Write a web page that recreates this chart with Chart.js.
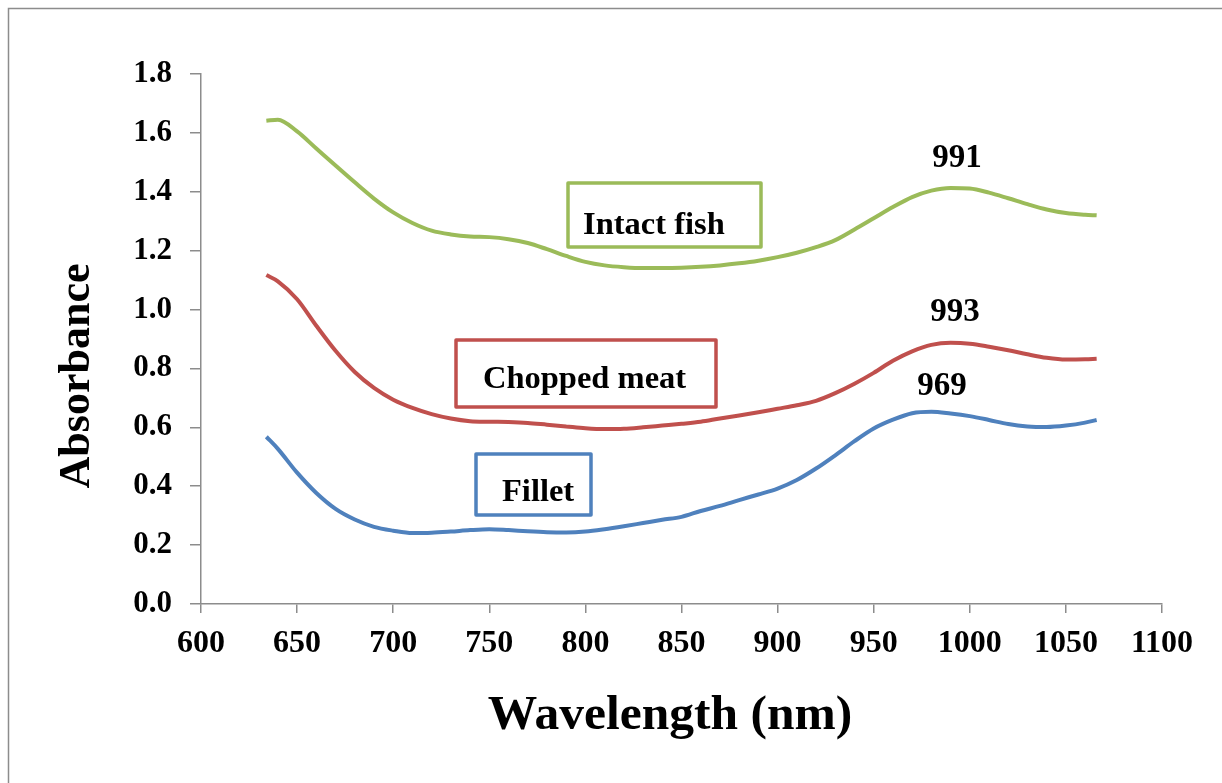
<!DOCTYPE html>
<html>
<head>
<meta charset="utf-8">
<script src="https://cdn.jsdelivr.net/npm/chart.js@4/dist/chart.umd.min.js"></script>
<style>
  html, body { margin: 0; padding: 0; background: #ffffff; }
  #wrap { width: 1222px; height: 783px; }
</style>
</head>
<body>
<div id="wrap"><canvas id="c" width="1222" height="783"></canvas></div>
<script>
// Wavelength grid (nm)
const wavelengths = [634, 640, 650, 660, 670, 680, 690, 700, 710, 720, 730, 740, 750, 760, 770, 780, 790, 800,
  810, 820, 830, 840, 850, 860, 870, 880, 890, 900, 910, 920, 930, 940, 950, 960, 970, 980, 990, 1000,
  1010, 1020, 1030, 1040, 1050, 1060, 1066];

// Absorbance spectra
const intactFish = [1.641, 1.645, 1.605, 1.547, 1.489, 1.432, 1.377, 1.330, 1.294, 1.268, 1.255, 1.248, 1.246,
  1.239, 1.226, 1.205, 1.182, 1.162, 1.150, 1.144, 1.141, 1.141, 1.142, 1.145, 1.150, 1.157, 1.166, 1.178,
  1.193, 1.212, 1.236, 1.272, 1.310, 1.348, 1.382, 1.404, 1.413, 1.411, 1.397, 1.378, 1.358, 1.340, 1.328,
  1.322, 1.320];
const choppedMeat = [1.117, 1.096, 1.035, 0.945, 0.860, 0.788, 0.734, 0.694, 0.666, 0.645, 0.630, 0.621, 0.619,
  0.618, 0.615, 0.609, 0.603, 0.597, 0.594, 0.595, 0.600, 0.606, 0.612, 0.619, 0.630, 0.640, 0.651, 0.663,
  0.675, 0.690, 0.716, 0.748, 0.785, 0.826, 0.858, 0.880, 0.887, 0.884, 0.874, 0.862, 0.848, 0.836, 0.830,
  0.831, 0.833];
const fillet = [0.568, 0.527, 0.446, 0.377, 0.323, 0.287, 0.262, 0.249, 0.241, 0.242, 0.246, 0.251, 0.254,
  0.251, 0.247, 0.244, 0.243, 0.246, 0.254, 0.264, 0.275, 0.286, 0.296, 0.316, 0.333, 0.353, 0.372, 0.392,
  0.421, 0.460, 0.505, 0.553, 0.596, 0.626, 0.648, 0.653, 0.647, 0.638, 0.625, 0.611, 0.603, 0.601, 0.606,
  0.616, 0.625];

// Sample names and peak wavelengths
const seriesNames = ['Intact fish', 'Chopped meat', 'Fillet'];
const peakLabels = ['991', '993', '969'];

// Axis ticks
const xTicks = { min: 600, max: 1100, step: 50 };
const yTicks = { min: 0, max: 1.8, step: 0.2 };

const colors = ['#9BBB59', '#C0504D', '#4F81BD'];
const serif = "'Liberation Serif', 'Times New Roman', serif";

function pts(values) {
  return wavelengths.map((w, i) => ({ x: w, y: values[i] }));
}

// Boxed sample names and peak numbers drawn over the plot
const boxes = [
  { rect: [568, 183, 193, 64], text: [583, 226] },
  { rect: [456, 340, 260, 67], text: [483, 380] },
  { rect: [476, 454, 115, 61], text: [502, 493] }
];
const peakPos = [[957, 158], [955, 312], [942, 386]];

const overlay = {
  id: 'overlay',
  beforeDraw(chart) {
    const ctx = chart.ctx;
    ctx.save();
    ctx.fillStyle = '#ffffff';
    ctx.fillRect(0, 0, chart.width, chart.height);
    ctx.strokeStyle = '#8c8c8c';
    ctx.lineWidth = 1.5;
    ctx.beginPath();
    ctx.moveTo(8.5, chart.height);
    ctx.lineTo(8.5, 8.5);
    ctx.lineTo(chart.width, 8.5);
    ctx.stroke();
    ctx.restore();
  },
  afterDraw(chart) {
    const ctx = chart.ctx;
    ctx.save();
    boxes.forEach((b, i) => {
      const [x, y, w, h] = b.rect;
      ctx.strokeStyle = colors[i];
      ctx.lineWidth = 3.5;
      ctx.lineJoin = 'round';
      ctx.strokeRect(x, y, w, h);
      ctx.fillStyle = '#000000';
      ctx.font = 'bold 32.5px ' + serif;
      ctx.textAlign = 'left';
      ctx.textBaseline = 'middle';
      ctx.fillText(seriesNames[i], b.text[0], b.text[1]);
    });
    ctx.font = 'bold 33px ' + serif;
    ctx.textAlign = 'center';
    ctx.textBaseline = 'middle';
    ctx.fillStyle = '#000000';
    peakLabels.forEach((t, i) => ctx.fillText(t, peakPos[i][0], peakPos[i][1]));

    // Axis titles
    ctx.font = 'bold 49.5px ' + serif;
    ctx.fillText('Wavelength (nm)', 670, 716);
    ctx.translate(78, 376);
    ctx.rotate(-Math.PI / 2);
    ctx.font = 'bold 44px ' + serif;
    ctx.fillText('Absorbance', 0, 0);
    ctx.restore();
  }
};

new Chart(document.getElementById('c'), {
  type: 'line',
  data: {
    datasets: [
      { label: seriesNames[0], data: pts(intactFish), borderColor: colors[0] },
      { label: seriesNames[1], data: pts(choppedMeat), borderColor: colors[1] },
      { label: seriesNames[2], data: pts(fillet), borderColor: colors[2] }
    ].map(d => Object.assign(d, {
      borderWidth: 4, pointRadius: 0, tension: 0.4, fill: false, cubicInterpolationMode: 'monotone'
    }))
  },
  options: {
    responsive: false,
    animation: false,
    devicePixelRatio: 1,
    layout: { padding: { top: 74, right: 60, left: 0, bottom: 0 } },
    plugins: { legend: { display: false }, tooltip: { enabled: false } },
    scales: {
      x: {
        type: 'linear',
        min: xTicks.min, max: xTicks.max,
        afterFit(scale) { scale.height = 179; },
        ticks: {
          stepSize: xTicks.step, color: '#000000', padding: 12, maxRotation: 0,
          callback: v => String(v),
          font: { family: serif, size: 32, weight: 'bold' }
        },
        grid: { drawOnChartArea: false, drawTicks: true, tickLength: 9, color: '#8c8c8c', lineWidth: 1.5 },
        border: { display: true, color: '#8c8c8c', width: 1.5 }
      },
      y: {
        min: yTicks.min, max: yTicks.max,
        afterFit(scale) { scale.width = 201; },
        ticks: {
          stepSize: yTicks.step, color: '#000000', padding: 18,
          callback: v => Number(v).toFixed(1),
          font: { family: serif, size: 31, weight: 'bold' }
        },
        grid: { drawOnChartArea: false, drawTicks: true, tickLength: 11, color: '#8c8c8c', lineWidth: 1.5 },
        border: { display: true, color: '#8c8c8c', width: 1.5 }
      }
    }
  },
  plugins: [overlay]
});
</script>
</body>
</html>
